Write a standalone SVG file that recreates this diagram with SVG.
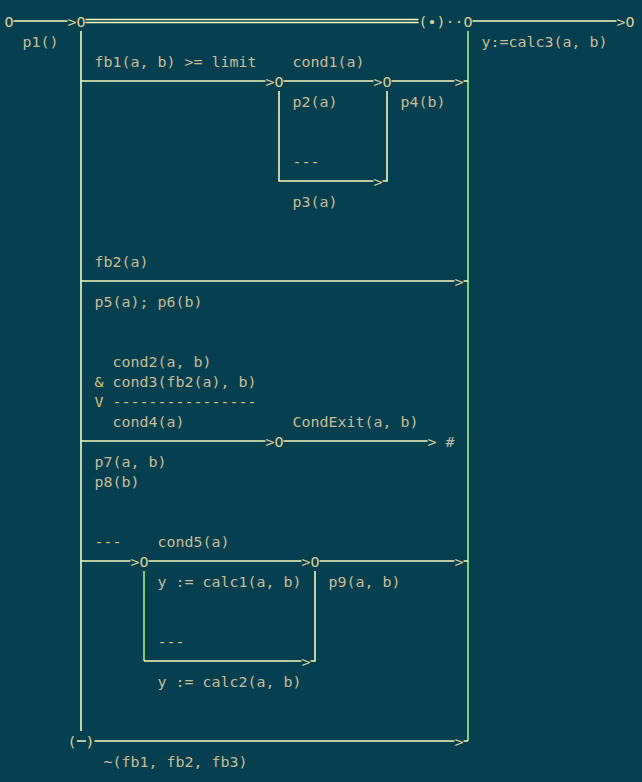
<svg xmlns="http://www.w3.org/2000/svg" width="642" height="782" viewBox="0 0 642 782">
<style>
text{font-family:"DejaVu Sans Mono","Liberation Mono",monospace;font-size:14.95px;fill:#c8bc98;white-space:pre}
.g{fill:#dcc270}
.k{fill:#dccf9a}
.h{fill:#b8b8aa}
.ln{stroke:#f6f6bc;stroke-width:1.6;fill:none}
.gr{stroke:#a2e27c;stroke-width:1.7;fill:none}
</style>
<rect width="642" height="782" fill="#053f50"/>
<g id="connectors">
<path class="ln" d="M13.5 21H67.5M85.5 19.5H418.5M85.5 22.5H418.5M472.5 21H616.5"/>
<path class="ln" d="M81 31V731"/>
<path class="gr" d="M468 31V741"/>
<path class="ln" d="M81 81H265.5M283.5 81H373.5M391.5 81H454.5M463.5 81H468"/>
<path class="ln" d="M279 91V181H373.5M382.5 181H387V91"/>
<path class="ln" d="M81 281H454.5M463.5 281H468"/>
<path class="ln" d="M81 441H265.5M283.5 441H427.5"/>
<path class="ln" d="M81 561H130.5M148.5 561H301.5M319.5 561H454.5M463.5 561H468"/>
<path class="gr" d="M144 571V661"/>
<path class="ln" d="M144 661H301.5M310.5 661H315V571"/>
<path class="ln" d="M77 741H86M94.5 741H454.5M463.5 741H468"/>
</g>
<g id="start">
<text x="4.5" y="26.5" class="k">O</text>
<text x="67.5" y="26.5" class="k">&gt;O</text>
<text x="22.5" y="46.5">p1()</text>
</g>
<g id="parallel-join">
<text x="418.5" y="26.5" class="k">(•)··O</text>
<text x="481.5" y="46.5">y:=calc3(a, b)</text>
</g>
<g id="end">
<text x="616.5" y="26.5" class="k">&gt;O</text>
</g>
<g id="branch-fb1">
<text x="94.5" y="66.5">fb1(a, b) &gt;= limit</text>
<text x="265.5" y="86.5" class="k">&gt;O</text>
<text x="292.5" y="66.5">cond1(a)</text>
<text x="292.5" y="106.5">p2(a)</text>
<text x="292.5" y="166.5" class="g">---</text>
<text x="373.5" y="186.5" class="k">&gt;</text>
<text x="292.5" y="206.5">p3(a)</text>
<text x="373.5" y="86.5" class="k">&gt;O</text>
<text x="400.5" y="106.5">p4(b)</text>
<text x="454.5" y="86.5" class="k">&gt;</text>
</g>
<g id="branch-fb2">
<text x="94.5" y="266.5">fb2(a)</text>
<text x="454.5" y="286.5" class="k">&gt;</text>
<text x="94.5" y="306.5">p5(a); p6(b)</text>
</g>
<g id="branch-cond">
<text x="112.5" y="366.5">cond2(a, b)</text>
<text x="94.5" y="386.5" class="g">&amp;</text>
<text x="112.5" y="386.5">cond3(fb2(a), b)</text>
<text x="94.5" y="406.5" class="g">V</text>
<text x="112.5" y="406.5" class="g">----------------</text>
<text x="112.5" y="426.5">cond4(a)</text>
<text x="265.5" y="446.5" class="k">&gt;O</text>
<text x="292.5" y="426.5">CondExit(a, b)</text>
<text x="427.5" y="446.5" class="k">&gt;</text>
<text x="445.5" y="446.5" class="h">#</text>
<text x="94.5" y="466.5">p7(a, b)</text>
<text x="94.5" y="486.5">p8(b)</text>
</g>
<g id="branch-else">
<text x="94.5" y="546.5" class="g">---</text>
<text x="130.5" y="566.5" class="k">&gt;O</text>
<text x="157.5" y="546.5">cond5(a)</text>
<text x="157.5" y="586.5">y := calc1(a, b)</text>
<text x="157.5" y="646.5" class="g">---</text>
<text x="301.5" y="666.5" class="k">&gt;</text>
<text x="157.5" y="686.5">y := calc2(a, b)</text>
<text x="301.5" y="566.5" class="k">&gt;O</text>
<text x="328.5" y="586.5">p9(a, b)</text>
<text x="454.5" y="566.5" class="k">&gt;</text>
</g>
<g id="exception">
<text x="67.5" y="746.5" class="k">(</text>
<text x="85.5" y="746.5" class="k">)</text>
<text x="454.5" y="746.5" class="k">&gt;</text>
<text x="103.5" y="766.5">~(fb1, fb2, fb3)</text>
</g>
</svg>
